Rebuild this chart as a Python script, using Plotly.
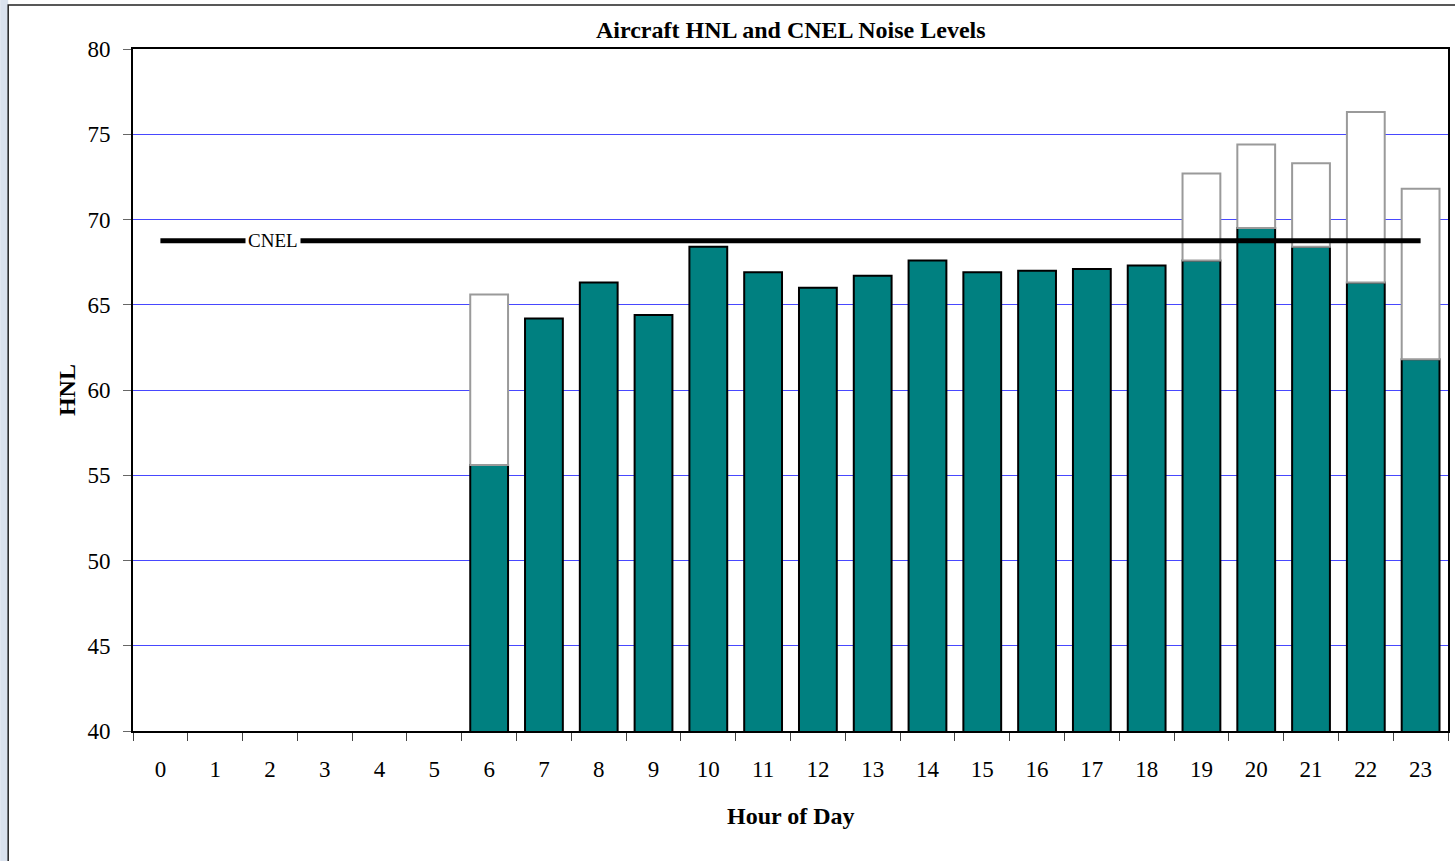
import plotly.graph_objects as go

# ---- data ----
hours = [str(h) for h in range(24)]
hnl = [None, None, None, None, None, None,
       55.6, 64.2, 66.3, 64.4, 68.4, 66.9, 66.0, 66.7, 67.6, 66.9, 67.0, 67.1,
       67.3, 67.6, 69.5, 68.4, 66.3, 61.8]
weighted = [None, None, None, None, None, None,
            65.6, None, None, None, None, None, None, None, None, None, None, None,
            None, 72.7, 74.4, 73.3, 76.3, 71.8]
cnel_value = 68.75
cnel_label = "CNEL"

title_text = "Aircraft HNL and CNEL Noise Levels"
x_title = "Hour of Day"
y_title = "HNL"

FONT = "Liberation Serif"

penalty = [(w - h) if (w is not None and h is not None) else None for w, h in zip(weighted, hnl)]

fig = go.Figure()
fig.add_trace(go.Bar(
    x=hours, y=hnl, marker=dict(color="#008080", line=dict(color="#000000", width=2)),
    showlegend=False, hoverinfo="x+y"))
fig.add_trace(go.Bar(
    x=hours, y=penalty, base=hnl,
    marker=dict(color="#ffffff", line=dict(color="#9a9a9a", width=2)),
    showlegend=False))
fig.add_trace(go.Scatter(
    x=[hours[0], hours[-1]], y=[cnel_value, cnel_value], mode="lines",
    line=dict(color="#000000", width=5), showlegend=False, hoverinfo="skip"))

W, H = 1455, 861
L, R, T, B = 133, 5, 49, 130
pw = W - L - R
ph = H - T - B

def px_x(x):
    return (x - L) / pw

def px_y(y):
    return (H - B - y) / ph

fig.add_annotation(x=2.05, y=cnel_value, xref="x", yref="y", text=cnel_label,
                   showarrow=False, bgcolor="#ffffff", borderpad=2,
                   font=dict(family=FONT, size=19, color="#000000"))
fig.add_annotation(x=0.5, y=px_y(30), xref="paper", yref="paper", text="<b>" + title_text + "</b>",
                   xanchor="center", yanchor="middle",
                   showarrow=False, font=dict(family=FONT, size=24, color="#000000"))
fig.add_annotation(x=0.5, y=px_y(816), xref="paper", yref="paper", text="<b>" + x_title + "</b>",
                   xanchor="center", yanchor="middle",
                   showarrow=False, font=dict(family=FONT, size=24, color="#000000"))
fig.add_annotation(x=px_x(67), y=px_y(390), xref="paper", yref="paper", text="<b>" + y_title + "</b>",
                   xanchor="center", yanchor="middle",
                   textangle=-90, showarrow=False, font=dict(family=FONT, size=24, color="#000000"))

# outer frame and left strip
fig.add_shape(type="rect", xref="paper", yref="paper", x0=px_x(0), x1=px_x(8), y0=px_y(900), y1=px_y(0),
              fillcolor="#dae2ee", line=dict(width=0), layer="below")
fig.add_shape(type="rect", xref="paper", yref="paper", x0=px_x(8), x1=px_x(1470), y0=px_y(900), y1=px_y(5),
              fillcolor="rgba(0,0,0,0)", line=dict(color="#222222", width=1.5), layer="below")

fig.update_layout(
    width=W, height=H,
    margin=dict(l=L, r=R, t=T, b=B),
    paper_bgcolor="#ffffff", plot_bgcolor="#ffffff",
    barmode="overlay", bargap=0.31,
    font=dict(family=FONT, size=23, color="#000000"),
    xaxis=dict(type="category", categoryorder="array", categoryarray=hours,
               range=[-0.5, 23.5], tickson="boundaries", ticks="outside", ticklen=8,
               tickcolor="#444444", tickwidth=1, showgrid=False, showline=True,
               linecolor="#000000", linewidth=2, mirror=True, ticklabelstandoff=16,
               tickfont=dict(family=FONT, size=23)),
    yaxis=dict(range=[40, 80], dtick=5, tick0=40, ticks="outside", ticklen=8,
               tickcolor="#666666", showgrid=True, gridcolor="#4848ff", gridwidth=1,
               zeroline=False, showline=True, linecolor="#000000", linewidth=2, mirror=True,
               ticklabelstandoff=8, tickfont=dict(family=FONT, size=23)),
)

fig.write_html("out.html", config={"displayModeBar": False},
               post_script="document.body.style.margin='0';document.body.style.overflow='hidden';")
